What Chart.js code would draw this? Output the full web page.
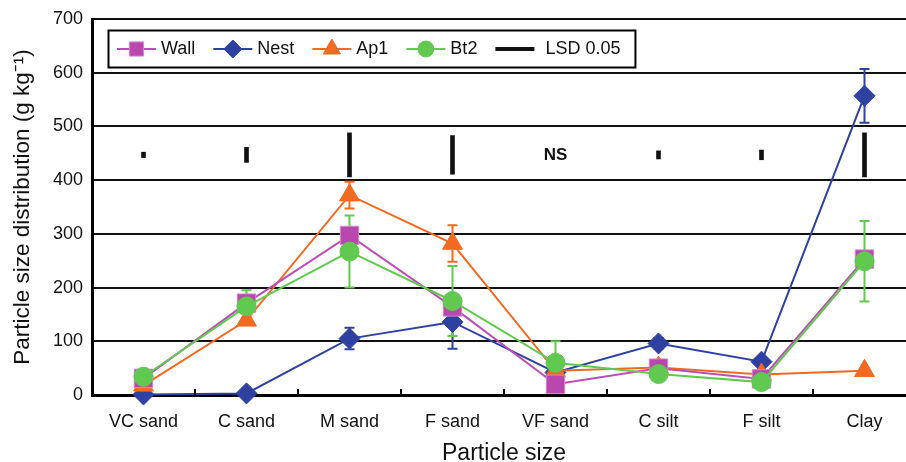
<!DOCTYPE html>
<html>
<head>
<meta charset="utf-8">
<script src="https://cdn.jsdelivr.net/npm/chart.js@4"></script>
<style>
  body { margin: 0; background: #fff; overflow: hidden; }
  #wrap { width: 918px; height: 462px; }
</style>
</head>
<body>
<div id="wrap"><canvas id="chart1" width="918" height="462"></canvas></div>
<script>
// particle size fractions
var categories = ['VC sand', 'C sand', 'M sand', 'F sand', 'VF sand', 'C silt', 'F silt', 'Clay'];

// g kg-1
var wall = [31, 171, 297, 164, 20, 50, 30, 253];
var nest = [1, 3, 105, 136, 42, 96, 62, 557];
var ap1  = [18, 139, 372, 282, 45, 51, 38, 45];
var bt2  = [34, 165, 267, 175, 60, 39, 24, 249];

// +/- error bars (null = none shown)
var wallErr = [null, null, null, null, null, null, null, null];
var nestErr = [null, null, 20, 50, null, 10, null, 50];
var ap1Err  = [null, null, 25, 34, null, null, null, null];
var bt2Err  = [null, 30, 67, 65, 40, null, null, 75];

// LSD 0.05 bar lengths, drawn around lsdCenter (0 = NS)
var lsd = [10, 28, 82, 72, 0, 15, 18, 82];
var lsdCenter = 447;

var yTicks = [0, 100, 200, 300, 400, 500, 600, 700];

Chart.defaults.font.family = '"Liberation Sans", Arial, sans-serif';
Chart.defaults.color = '#111';

var series = [
  {label: 'Wall', data: wall, err: wallErr, line: '#bd4db6', fill: '#b947ad', edge: '#d486cd', style: 'rect', r: 13, lr: 10, order: 1},
  {label: 'Nest', data: nest, err: nestErr, line: '#2f41a0', fill: '#2f41a0', edge: '#2f41a0', style: 'rectRot', r: 10.5, lr: 9, order: 3},
  {label: 'Ap1', data: ap1, err: ap1Err, line: '#f26a22', fill: '#f26a22', edge: '#f26a22', style: 'triangle', r: 11.5, lr: 10, order: 2},
  {label: 'Bt2', data: bt2, err: bt2Err, line: '#62c950', fill: '#62c950', edge: '#62c950', style: 'circle', r: 9.5, lr: 8, order: 0}
];

var datasets = series.map(function(s) {
  return {
    type: 'line',
    label: s.label,
    data: s.data,
    borderColor: s.line,
    borderWidth: 2,
    backgroundColor: s.fill,
    pointStyle: s.style,
    pointRadius: s.r,
    pointBackgroundColor: s.fill,
    pointBorderColor: s.edge,
    pointBorderWidth: 1,
    tension: 0,
    clip: false,
    order: s.order,
    errors: s.err
  };
});

datasets.push({
  type: 'bar',
  label: 'LSD 0.05',
  data: lsd.map(function(v) { return v ? [lsdCenter - v / 2, lsdCenter + v / 2] : null; }),
  backgroundColor: '#111',
  barThickness: 4,
  order: 9
});

var extras = {
  id: 'extras',
  beforeDatasetsDraw: function(chart) {
    var ctx = chart.ctx, xs = chart.scales.x, ys = chart.scales.y;
    ctx.save();
    chart.data.datasets.forEach(function(ds) {
      if (!ds.errors) return;
      ctx.strokeStyle = ds.borderColor;
      ctx.lineWidth = 2;
      ds.errors.forEach(function(e, i) {
        if (e == null) return;
        var x = xs.getPixelForValue(i);
        var top = ys.getPixelForValue(ds.data[i] + e);
        var bot = ys.getPixelForValue(ds.data[i] - e);
        ctx.beginPath();
        ctx.moveTo(x, top); ctx.lineTo(x, bot);
        ctx.moveTo(x - 5, top); ctx.lineTo(x + 5, top);
        ctx.moveTo(x - 5, bot); ctx.lineTo(x + 5, bot);
        ctx.stroke();
      });
    });
    ctx.restore();
  },
  afterDatasetsDraw: function(chart) {
    var ctx = chart.ctx, xs = chart.scales.x, ys = chart.scales.y;
    ctx.save();
    // NS label where no LSD bar
    ctx.fillStyle = '#111';
    ctx.font = 'bold 17px "Liberation Sans", Arial, sans-serif';
    ctx.textAlign = 'center';
    ctx.textBaseline = 'middle';
    lsd.forEach(function(v, i) {
      if (!v) ctx.fillText('NS', xs.getPixelForValue(i), ys.getPixelForValue(lsdCenter));
    });
    // inward tick marks between categories
    ctx.strokeStyle = '#000';
    ctx.lineWidth = 2;
    var b = chart.chartArea.bottom;
    for (var i = 0; i < categories.length - 1; i++) {
      var x = (xs.getPixelForValue(i) + xs.getPixelForValue(i + 1)) / 2;
      ctx.beginPath();
      ctx.moveTo(x, b); ctx.lineTo(x, b - 6);
      ctx.stroke();
    }
    ctx.restore();
  },
  afterDraw: function(chart) {
    var ctx = chart.ctx;
    ctx.save();
    ctx.font = '18px "Liberation Sans", Arial, sans-serif';
    ctx.textBaseline = 'middle';
    var x = 117, y = 49, segLen = 39;
    series.forEach(function(s) {
      ctx.strokeStyle = s.line;
      ctx.lineWidth = 2;
      ctx.beginPath();
      ctx.moveTo(x, y); ctx.lineTo(x + segLen, y);
      ctx.stroke();
      ctx.fillStyle = s.fill;
      ctx.strokeStyle = s.edge;
      ctx.lineWidth = 1;
      Chart.helpers.drawPoint(ctx, {pointStyle: s.style, radius: s.lr, rotation: 0, borderWidth: 1}, x + segLen / 2, y);
      ctx.fillStyle = '#111';
      ctx.fillText(s.label, x + segLen + 5, y);
      x += segLen + 5 + ctx.measureText(s.label).width + 18;
    });
    ctx.strokeStyle = '#111';
    ctx.lineWidth = 4;
    ctx.beginPath();
    ctx.moveTo(x, y); ctx.lineTo(x + segLen, y);
    ctx.stroke();
    ctx.fillStyle = '#111';
    ctx.fillText('LSD 0.05', x + segLen + 11, y);
    var right = x + segLen + 11 + ctx.measureText('LSD 0.05').width + 15;
    ctx.strokeStyle = '#000';
    ctx.lineWidth = 2;
    ctx.strokeRect(108.5, 30.5, right - 108.5, 37);
    ctx.restore();
  }
};

var ctx = document.getElementById('chart1').getContext('2d');
var psdChart = new Chart(ctx, {
  data: {
    labels: categories,
    datasets: datasets
  },
  options: {
    responsive: false,
    animation: false,
    devicePixelRatio: 1,
    layout: {autoPadding: false, padding: {top: 19, right: 2, left: 0, bottom: 0}},
    plugins: {
      legend: {display: false},
      tooltip: {enabled: false}
    },
    scales: {
      x: {
        offset: true,
        grid: {display: false, drawTicks: false},
        border: {color: '#000', width: 3},
        ticks: {font: {size: 18}, padding: 16},
        title: {display: true, text: 'Particle size', font: {size: 23, lineHeight: 0.74}, padding: 0},
        afterFit: function(s) { s.height = 67; s.paddingLeft = 0; s.paddingRight = 0; }
      },
      y: {
        min: 0,
        max: 700,
        afterBuildTicks: function(s) { s.ticks = yTicks.map(function(v) { return {value: v}; }); },
        ticks: {font: {size: 18}, padding: 9},
        grid: {color: '#111', lineWidth: 2, drawTicks: false},
        border: {color: '#000', width: 3},
        title: {display: true, text: 'Particle size distribution (g kg\u207B\u00B9)', font: {size: 22.5}, padding: {top: 9}},
        afterFit: function(s) { s.width = 92; s.paddingTop = 0; s.paddingBottom = 0; }
      }
    }
  },
  plugins: [extras]
});
</script>
</body>
</html>
